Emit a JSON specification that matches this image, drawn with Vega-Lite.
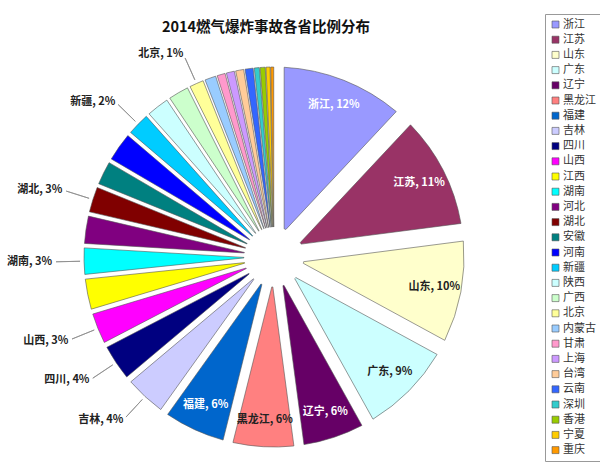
{
  "$schema": "https://vega.github.io/schema/vega-lite/v6.json",
  "width": 440,
  "height": 434,
  "autosize": {"type": "none"},
  "padding": {"left": 54, "top": 40, "right": 106, "bottom": 2},
  "background": "white",
  "title": {"text": "2014燃气爆炸事故各省比例分布", "fontSize": 14.5, "fontWeight": "bold", "font": "Noto Sans CJK SC", "color": "#111", "anchor": "middle", "dx": -8, "offset": -22},
  "data": {"values": [
    {"rank": 1, "province": "浙江", "pct": 12, "label": "浙江, 12%"},
    {"rank": 2, "province": "江苏", "pct": 11, "label": "江苏, 11%"},
    {"rank": 3, "province": "山东", "pct": 10, "label": "山东, 10%"},
    {"rank": 4, "province": "广东", "pct": 9, "label": "广东, 9%"},
    {"rank": 5, "province": "辽宁", "pct": 6, "label": "辽宁, 6%"},
    {"rank": 6, "province": "黑龙江", "pct": 6, "label": "黑龙江, 6%"},
    {"rank": 7, "province": "福建", "pct": 6, "label": "福建, 6%"},
    {"rank": 8, "province": "吉林", "pct": 4, "label": "吉林, 4%"},
    {"rank": 9, "province": "四川", "pct": 3.5, "label": "四川, 4%"},
    {"rank": 10, "province": "山西", "pct": 3, "label": "山西, 3%"},
    {"rank": 11, "province": "江西", "pct": 3, "label": "江西, 3%"},
    {"rank": 12, "province": "湖南", "pct": 2.6, "label": "湖南, 3%"},
    {"rank": 13, "province": "河北", "pct": 2.7, "label": "河北, 3%"},
    {"rank": 14, "province": "湖北", "pct": 2.5, "label": "湖北, 3%"},
    {"rank": 15, "province": "安徽", "pct": 2.3, "label": "安徽, 2%"},
    {"rank": 16, "province": "河南", "pct": 2.8, "label": "河南, 3%"},
    {"rank": 17, "province": "新疆", "pct": 2.2, "label": "新疆, 2%"},
    {"rank": 18, "province": "陕西", "pct": 2.2, "label": "陕西, 2%"},
    {"rank": 19, "province": "广西", "pct": 2.0, "label": "广西, 2%"},
    {"rank": 20, "province": "北京", "pct": 1.4, "label": "北京, 1%"},
    {"rank": 21, "province": "内蒙古", "pct": 1.1, "label": "内蒙古, 1%"},
    {"rank": 22, "province": "甘肃", "pct": 0.8, "label": "甘肃, 1%"},
    {"rank": 23, "province": "上海", "pct": 0.8, "label": "上海, 1%"},
    {"rank": 24, "province": "台湾", "pct": 0.8, "label": "台湾, 1%"},
    {"rank": 25, "province": "云南", "pct": 0.8, "label": "云南, 1%"},
    {"rank": 26, "province": "深圳", "pct": 0.5, "label": "深圳, 1%"},
    {"rank": 27, "province": "香港", "pct": 0.5, "label": "香港, 1%"},
    {"rank": 28, "province": "宁夏", "pct": 0.4, "label": "宁夏, 0%"},
    {"rank": 29, "province": "重庆", "pct": 0.3, "label": "重庆, 0%"}
  ]},
  "encoding": {
    "theta": {"field": "pct", "type": "quantitative", "stack": true},
    "order": {"field": "rank", "type": "quantitative"}
  },
  "layer": [
    {
      "mark": {"type": "arc", "outerRadius": 190, "innerRadius": 30, "padAngle": {"expr": "datum.pct * 0.0088"}, "stroke": "#555555", "strokeWidth": 0.6},
      "encoding": {
        "color": {
          "field": "province", "type": "nominal",
          "scale": {
            "domain": ["浙江","江苏","山东","广东","辽宁","黑龙江","福建","吉林","四川","山西","江西","湖南","河北","湖北","安徽","河南","新疆","陕西","广西","北京","内蒙古","甘肃","上海","台湾","云南","深圳","香港","宁夏","重庆"],
            "range": ["#9999FF","#993366","#FFFFCC","#CCFFFF","#660066","#FF8080","#0066CC","#CCCCFF","#000080","#FF00FF","#FFFF00","#00FFFF","#800080","#800000","#008080","#0000FF","#00CCFF","#CCFFFF","#CCFFCC","#FFFF99","#99CCFF","#FF99CC","#CC99FF","#FFCC99","#3366FF","#33CCCC","#99CC00","#FFCC00","#FF9900"]
          },
          "legend": {
            "title": null, "orient": "none", "legendX": 491, "legendY": -26,
            "symbolType": "square", "symbolSize": 49, "symbolStrokeColor": "#555555", "symbolStrokeWidth": 0.6,
            "labelFontSize": 11, "labelFont": "Noto Sans CJK SC", "labelColor": "#333333",
            "rowPadding": 3.2, "padding": 5, "strokeColor": "#999999", "fillColor": "white", "labelOffset": 2
          }
        }
      }
    },
    {
      "mark": {"type": "arc", "outerRadius": 218, "innerRadius": 194, "padAngle": 3.14, "fill": null, "stroke": "#8c8c8c", "strokeWidth": 0.8},
      "encoding": {
        "strokeOpacity": {"condition": {"test": "indexof(['吉林','四川','山西','湖南','湖北','新疆','北京'], datum.province) >= 0", "value": 1}, "value": 0}
      }
    },
    {
      "mark": {"type": "text", "radius": 163, "fontSize": 11, "fontWeight": "bold", "font": "Noto Sans CJK SC"},
      "encoding": {
        "text": {"condition": {"test": "indexof(['浙江','江苏','山东','广东','辽宁','黑龙江','福建'], datum.province) >= 0", "field": "label"}, "value": ""},
        "color": {"condition": {"test": "indexof(['浙江','江苏','辽宁','福建'], datum.province) >= 0", "value": "white"}, "value": "#222222"}
      }
    },
    {
      "mark": {"type": "text", "radius": 222, "align": "right", "baseline": "middle", "fontSize": 11, "fontWeight": "bold", "font": "Noto Sans CJK SC", "color": "#222222"},
      "encoding": {
        "text": {"condition": {"test": "indexof(['吉林','四川','山西','湖南','湖北','新疆','北京'], datum.province) >= 0", "field": "label"}, "value": ""}
      }
    }
  ]
}
